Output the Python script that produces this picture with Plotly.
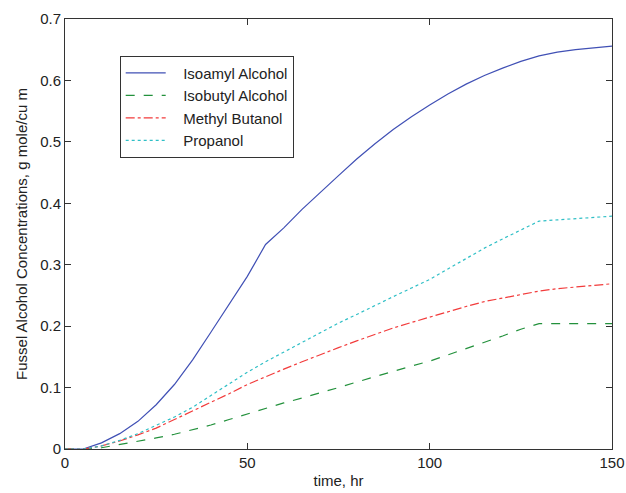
import plotly.graph_objects as go

time_hr = [0, 5, 10, 15, 20, 25, 30, 35, 40, 45, 50, 55, 60, 65, 70, 75, 80, 85, 90, 95,
           100, 105, 110, 115, 120, 125, 130, 135, 140, 145, 150]
isoamyl = [0, 0, 0.01, 0.025, 0.045, 0.072, 0.105, 0.145, 0.19, 0.235, 0.281, 0.333, 0.36, 0.39,
           0.418, 0.445, 0.472, 0.497, 0.52, 0.541, 0.56, 0.578, 0.594, 0.608, 0.62, 0.631, 0.64,
           0.646, 0.65, 0.653, 0.656]
isobutyl = [0, 0, 0.002, 0.007, 0.012, 0.018, 0.024, 0.031, 0.039, 0.048, 0.057, 0.067, 0.075,
            0.083, 0.091, 0.1, 0.109, 0.118, 0.127, 0.135, 0.143, 0.153, 0.163, 0.173, 0.184,
            0.195, 0.204, 0.204, 0.204, 0.204, 0.204]
methyl_butanol = [0, 0, 0.005, 0.013, 0.023, 0.034, 0.048, 0.062, 0.075, 0.09, 0.105, 0.118, 0.13,
                  0.142, 0.154, 0.165, 0.176, 0.187, 0.197, 0.206, 0.215, 0.224, 0.232, 0.24,
                  0.246, 0.252, 0.257, 0.261, 0.264, 0.267, 0.269]
propanol = [0, 0, 0.005, 0.014, 0.025, 0.038, 0.052, 0.068, 0.087, 0.107, 0.125, 0.142, 0.158,
            0.174, 0.19, 0.205, 0.219, 0.234, 0.248, 0.262, 0.276, 0.293, 0.31, 0.327, 0.342,
            0.357, 0.371, 0.373, 0.375, 0.377, 0.379]
names = ["Isoamyl Alcohol", "Isobutyl Alcohol", "Methyl Butanol", "Propanol"]

series = [
    (names[0], isoamyl, "#4050b5", "solid"),
    (names[1], isobutyl, "#23913c", "dash"),
    (names[2], methyl_butanol, "#f23b3b", "dashdot"),
    (names[3], propanol, "#2fbfc6", "dot"),
]

fig = go.Figure()
for name, vals, color, dash in series:
    fig.add_trace(go.Scatter(x=time_hr, y=vals, mode="lines", name="\u00a0\u00a0\u00a0" + name,
                             line=dict(color=color, width=1.2, dash=dash)))

axis_common = dict(showline=True, linecolor="#333333", linewidth=1, mirror="ticks",
                   ticks="inside", ticklen=6, tickcolor="#333333", showgrid=False,
                   zeroline=False, automargin=False,
                   tickfont=dict(family="Liberation Sans, Arial", size=15, color="#222222"))

fig.update_layout(
    width=626, height=493,
    margin=dict(l=65, r=14, t=19, b=44),
    paper_bgcolor="white", plot_bgcolor="white",
    font=dict(family="Liberation Sans, Arial", size=14, color="#222222"),
    xaxis=dict(range=[0, 150], tickvals=[0, 50, 100, 150],
               title=dict(text="time, hr", standoff=5, font=dict(size=15)), **axis_common),
    yaxis=dict(range=[0, 0.7], tickvals=[0, 0.1, 0.2, 0.3, 0.4, 0.5, 0.6, 0.7],
               tickformat=".1~f",
               title=dict(text="Fussel Alcohol Concentrations, g mole/cu m", standoff=8,
                          font=dict(size=15)), **axis_common),
    legend=dict(x=0.1, y=0.915, xanchor="left", yanchor="top", bgcolor="white",
                bordercolor="#333333", borderwidth=1, font=dict(size=15),
                tracegroupgap=0, itemwidth=40),
    showlegend=True,
)

fig.write_html("out.html")
